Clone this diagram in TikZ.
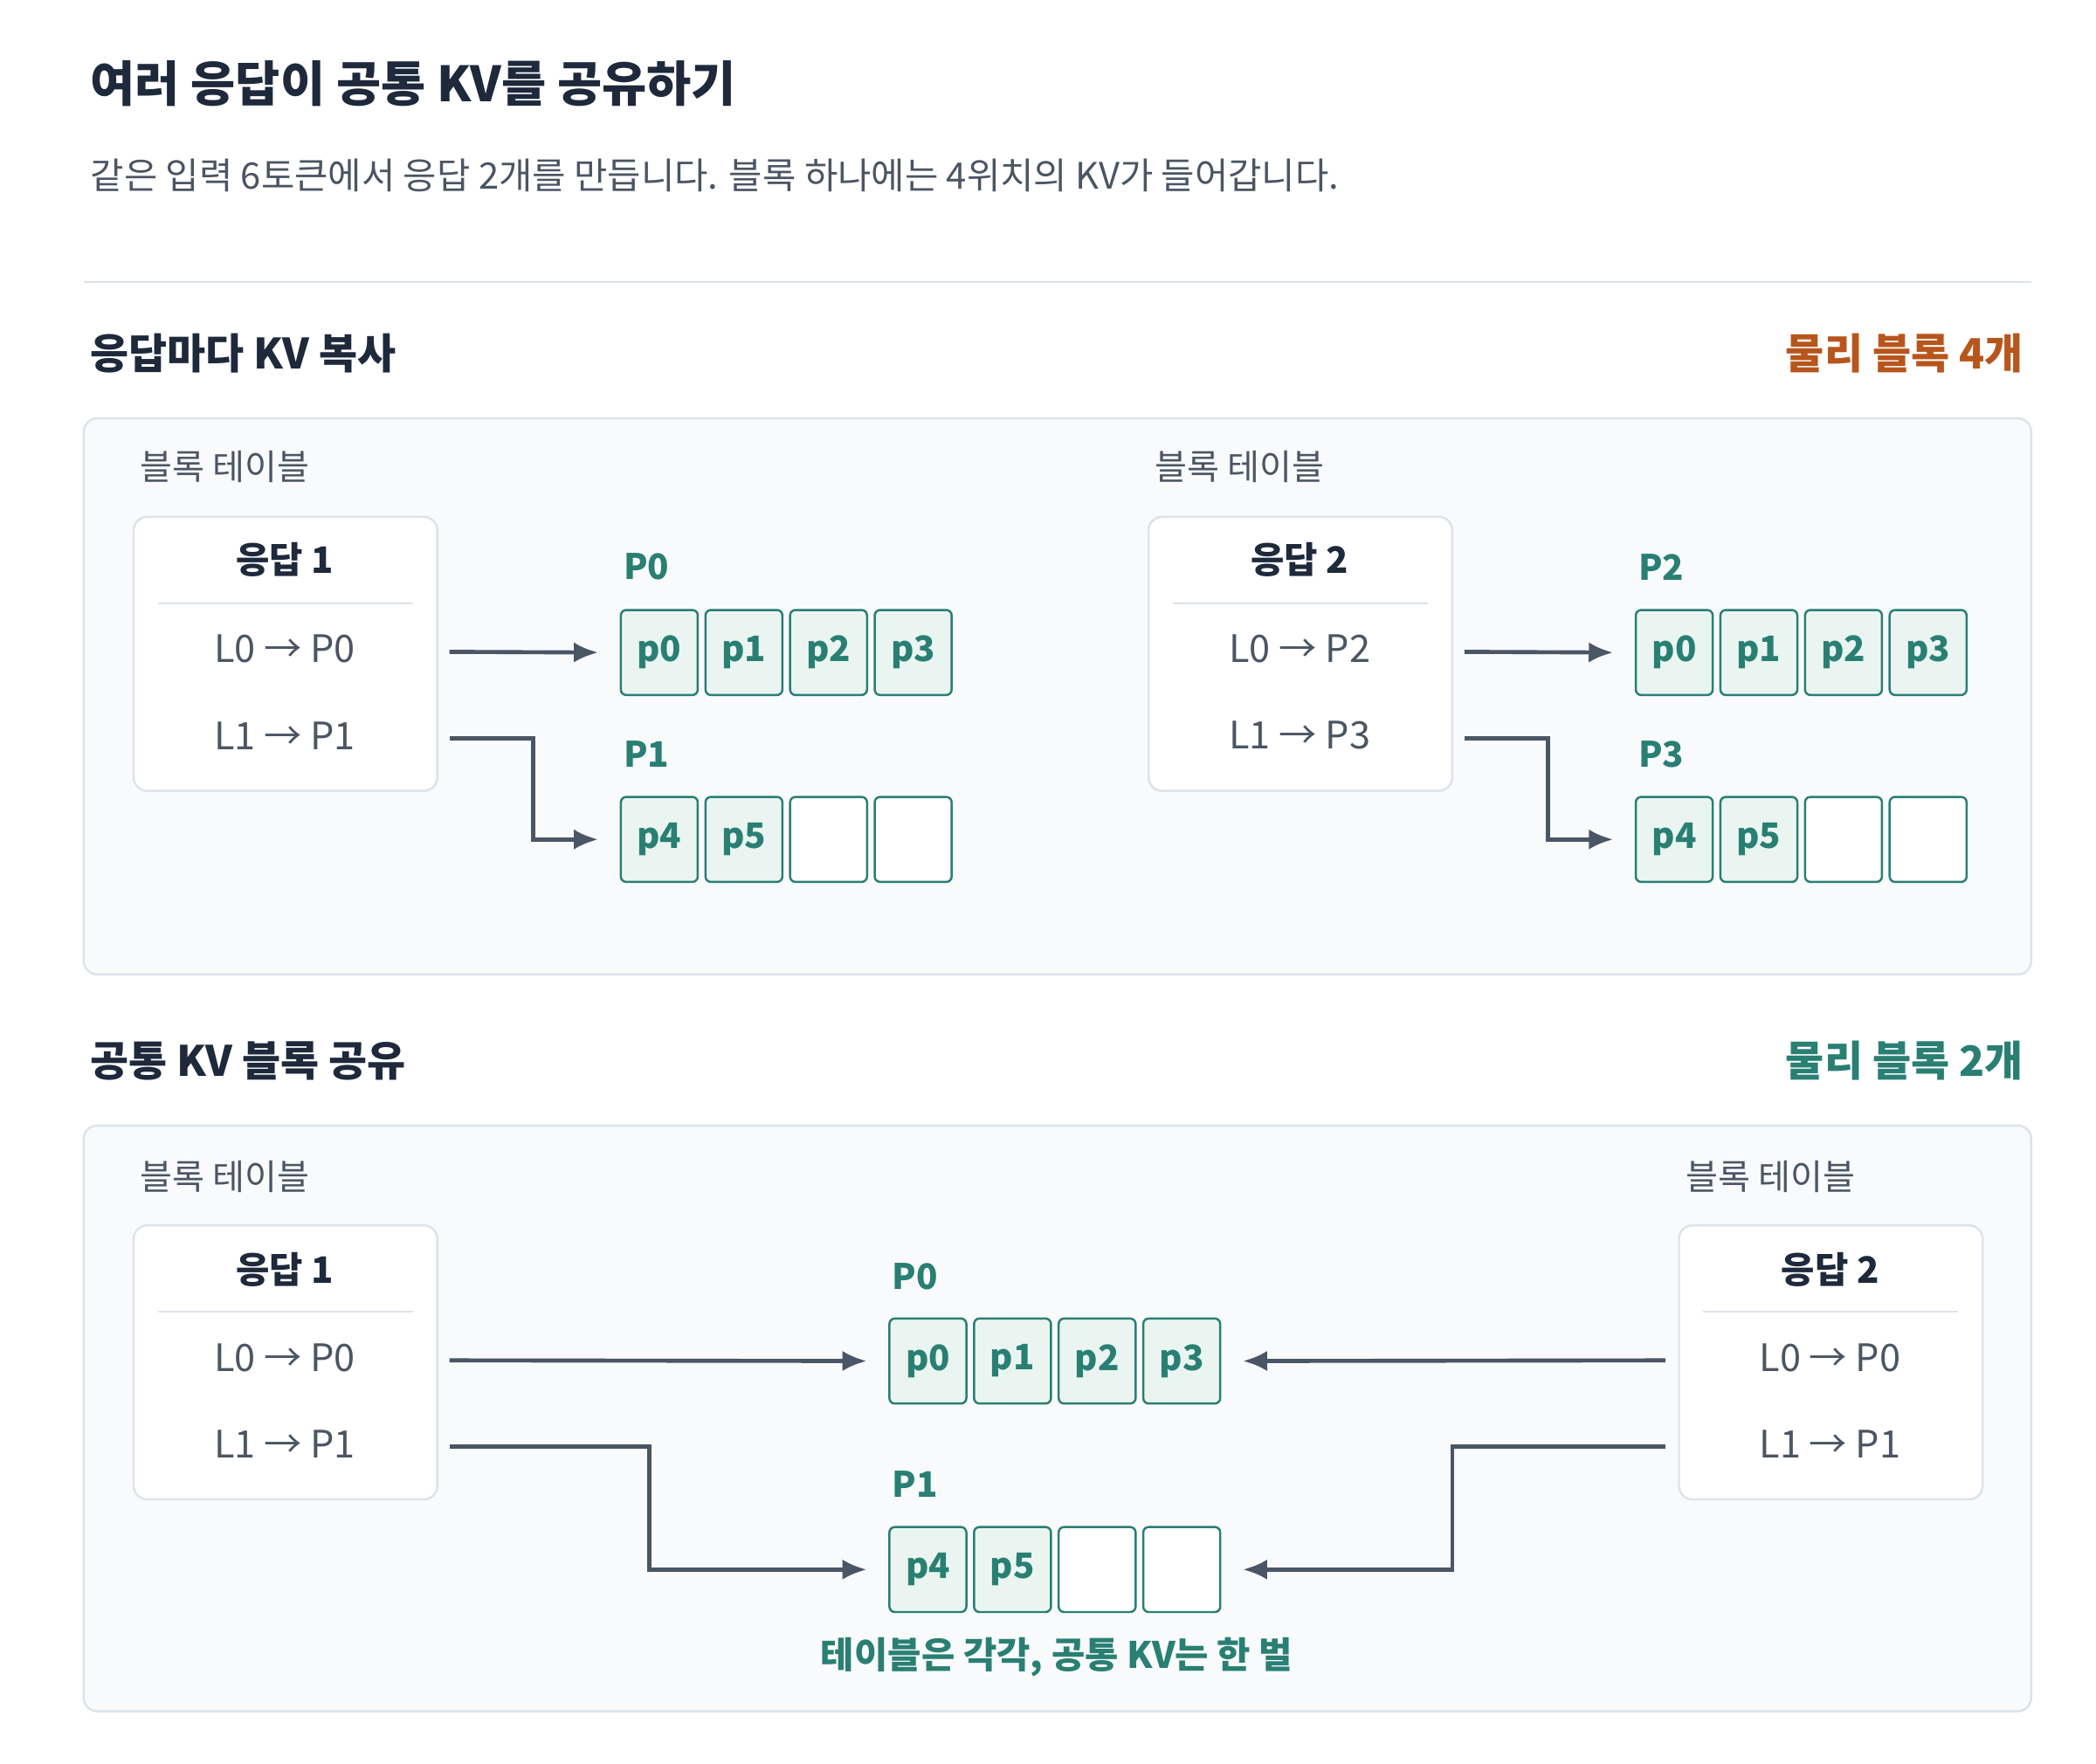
\documentclass[tikz,border=0pt]{standalone}
\usepackage{fontspec}
\setmainfont{Noto Sans CJK KR}
\usetikzlibrary{arrows.meta}
\definecolor{ink}{HTML}{1E293B}
\definecolor{sub}{HTML}{4B5563}
\definecolor{orn}{HTML}{B7561C}
\definecolor{teal}{HTML}{2A7F73}
\definecolor{cellf}{HTML}{EAF5F1}
\definecolor{panf}{HTML}{F8FAFC}
\definecolor{panb}{HTML}{DDE3EA}
\definecolor{arr}{HTML}{4A5565}
\begin{document}
\begin{tikzpicture}[x=0.5pt,y=-0.5pt,
 panel/.style={draw=panb,fill=panf,line width=0.8pt,rounded corners=5pt},
 tbl/.style={draw=panb,fill=white,line width=0.8pt,rounded corners=5pt},
 cell/.style={draw=teal,fill=cellf,line width=0.8pt,rounded corners=2pt,minimum width=28.5pt,minimum height=31.5pt,inner sep=0pt,font=\fontsize{13}{15}\selectfont\bfseries,text=teal},
 ecell/.style={cell,fill=white},
 blab/.style={font=\fontsize{13}{15}\selectfont\bfseries,text=teal,anchor=west},
 tlab/.style={font=\fontsize{13}{15}\selectfont,text=sub,anchor=west},
 map/.style={font=\fontsize{14}{16}\selectfont,text=sub},
 hd/.style={font=\fontsize{13.5}{16}\selectfont\bfseries,text=ink},
 con/.style={draw=arr,line width=1.5pt,-{Latex[length=9pt,width=7.5pt]}}]
\useasboundingbox (0,0) rectangle (1553,1307);
\node[anchor=west,font=\fontsize{18}{22}\selectfont\bfseries,text=ink] (title) at (60,62) {여러 응답이 공통 KV를 공유하기};
\node[anchor=west,font=\fontsize{13.5}{16}\selectfont,text=sub] (subt) at (60,130) {같은 입력 6토큰에서 응답 2개를 만듭니다. 블록 하나에는 4위치의 KV가 들어갑니다.};
\draw[panb,line width=0.8pt] (62,209) -- (1505,209);
% section 1
\node[anchor=west,font=\fontsize{15.5}{18}\selectfont\bfseries,text=ink] (s1) at (60,262) {응답마다 KV 복사};
\node[anchor=east,font=\fontsize{15.5}{18}\selectfont\bfseries,text=orn] (s1r) at (1506,262) {물리 블록 4개};
\draw[panel] (62,310) rectangle (1505,722);
\foreach \o/\r/\a/\b in {0/1/0/1,752/2/2/3}{
 \node[tlab] at (\o+97,346) {블록 테이블};
 \draw[tbl] (\o+99,383) rectangle (\o+324,586);
 \node[hd] at (\o+211,415) {응답 \r};
 \draw[panb,line width=0.6pt] (\o+117,447) -- (\o+306,447);
 \node[map] at (\o+211,481) {L0 → P\a};
 \node[map] at (\o+211,545) {L1 → P\b};
 \node[blab] at (\o+455,420) {P\a};
 \node[blab] at (\o+455,559) {P\b};
 \foreach \i in {0,1,2,3}{\node[cell] (a\r\i) at (\o+488.5+\i*62.7,483.5) {p\i};}
 \node[cell] (b\r0) at (\o+488.5,622) {p4};
 \node[cell] (b\r1) at (\o+551.2,622) {p5};
 \node[ecell] (b\r2) at (\o+613.9,622) {};
 \node[ecell] (b\r3) at (\o+676.6,622) {};
 \coordinate (f\r0) at (\o+333,483);
 \coordinate (f\r1) at (\o+333,547);
 \draw[con] (f\r0) -- ([xshift=-8pt]a\r0.west);
 \draw[con] (f\r1) -| (\o+395,590) |- ([xshift=-8pt]b\r0.west);
}
% section 2
\node[anchor=west,font=\fontsize{15.5}{18}\selectfont\bfseries,text=ink] (s2) at (60,786) {공통 KV 블록 공유};
\node[anchor=east,font=\fontsize{15.5}{18}\selectfont\bfseries,text=teal] (s2r) at (1506,786) {물리 블록 2개};
\draw[panel] (62,834) rectangle (1505,1268);
\foreach \o/\r in {0/1,1145/2}{
 \node[tlab] at (\o+97,872) {블록 테이블};
 \draw[tbl] (\o+99,908) rectangle (\o+324,1111);
 \node[hd] at (\o+211,941) {응답 \r};
 \draw[panb,line width=0.6pt] (\o+117,972) -- (\o+306,972);
 \node[map] at (\o+211,1006) {L0 → P0};
 \node[map] at (\o+211,1070) {L1 → P1};
}
\node[blab] at (654,946) {P0};
\node[blab] at (654,1100) {P1};
\foreach \i in {0,1,2,3}{\node[cell] (c\i) at (687.5+\i*62.7,1008.5) {p\i};}
\node[cell] (d0) at (687.5,1163) {p4};
\node[cell] (d1) at (750.2,1163) {p5};
\node[ecell] (d2) at (812.9,1163) {};
\node[ecell] (d3) at (875.6,1163) {};
\coordinate (g0) at (333,1008);
\coordinate (g1) at (333,1072);
\coordinate (h0) at (1234,1008);
\coordinate (h1) at (1234,1072);
\draw[con] (g0) -- ([xshift=-8pt]c0.west);
\draw[con] (g1) -| (481,1120) |- ([xshift=-8pt]d0.west);
\draw[con] (h0) -- ([xshift=8pt]c3.east);
\draw[con] (h1) -| (1076,1120) |- ([xshift=8pt]d3.east);
\node[font=\fontsize{13.5}{16}\selectfont\bfseries,text=teal] (cap) at (783,1228) {테이블은 각각, 공통 KV는 한 벌};
\end{tikzpicture}
\end{document}
